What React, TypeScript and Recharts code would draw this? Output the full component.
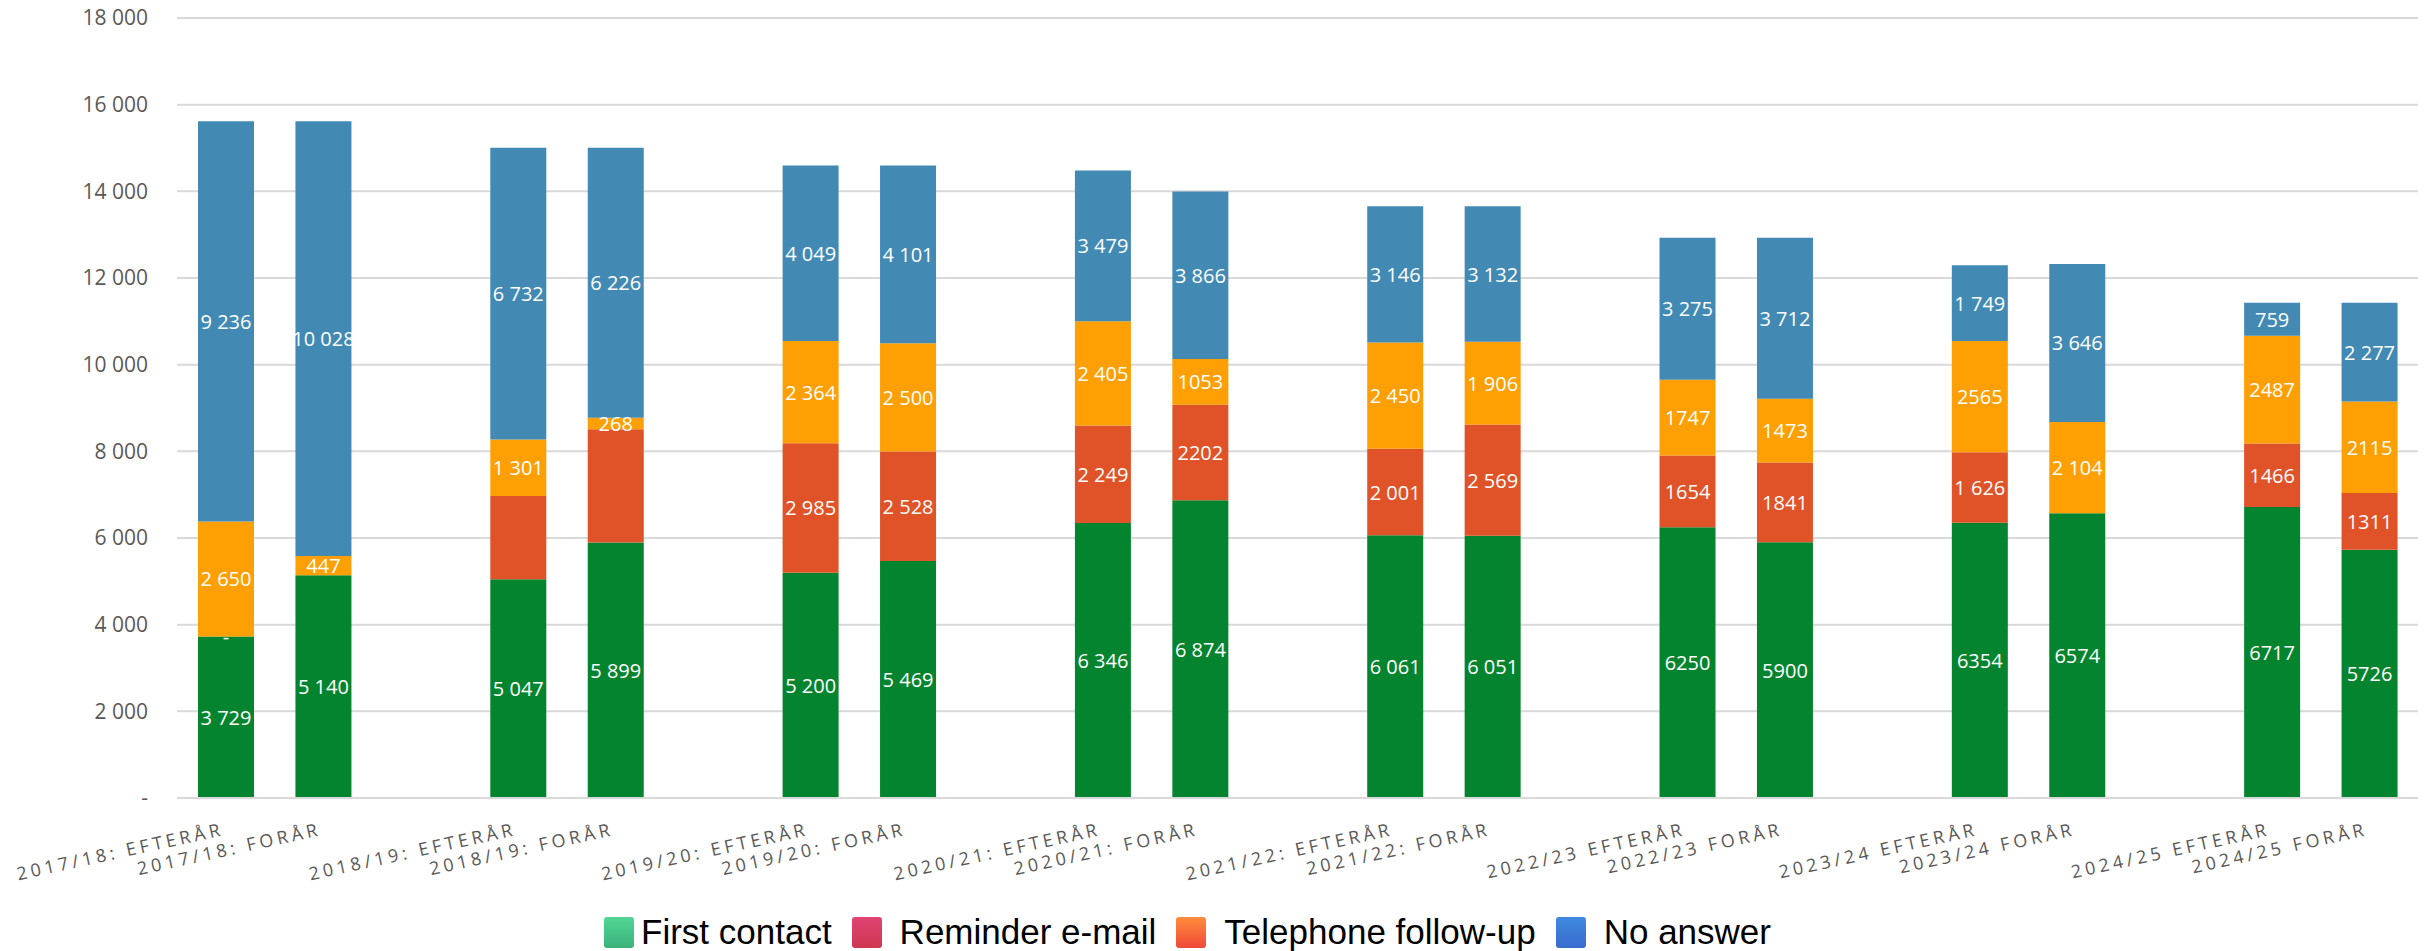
import React from 'react';
import { BarChart, Bar, XAxis, YAxis, CartesianGrid, LabelList } from 'recharts';

// 23 slots: two bars per school year, an empty slot between years
const categories = [
  '2017/18: EFTERÅR', '2017/18: FORÅR', '',
  '2018/19: EFTERÅR', '2018/19: FORÅR', '',
  '2019/20: EFTERÅR', '2019/20: FORÅR', '',
  '2020/21: EFTERÅR', '2020/21: FORÅR', '',
  '2021/22: EFTERÅR', '2021/22: FORÅR', '',
  '2022/23 EFTERÅR', '2022/23 FORÅR', '',
  '2023/24 EFTERÅR', '2023/24 FORÅR', '',
  '2024/25 EFTERÅR', '2024/25 FORÅR',
];

const firstContact = [3729, 5140, null, 5047, 5899, null, 5200, 5469, null, 6346, 6874, null, 6061, 6051, null, 6250, 5900, null, 6354, 6574, null, 6717, 5726];
const reminder = [0, null, null, 1923, 2610, null, 2985, 2528, null, 2249, 2202, null, 2001, 2569, null, 1654, 1841, null, 1626, null, null, 1466, 1311];
const phone = [2650, 447, null, 1301, 268, null, 2364, 2500, null, 2405, 1053, null, 2450, 1906, null, 1747, 1473, null, 2565, 2104, null, 2487, 2115];
const noAnswer = [9236, 10028, null, 6732, 6226, null, 4049, 4101, null, 3479, 3866, null, 3146, 3132, null, 3275, 3712, null, 1749, 3646, null, 759, 2277];

const yTicks = [0, 2000, 4000, 6000, 8000, 10000, 12000, 14000, 16000, 18000];

// labels printed without thousands space in the source, and labels left out
const plainLabels: Record<string, number[]> = {
  firstContact: [15, 16, 18, 19, 21, 22],
  reminder: [10, 15, 16, 21, 22],
  phone: [10, 15, 16, 18, 21, 22],
  noAnswer: [],
};
const hiddenLabels: Record<string, number[]> = {
  firstContact: [],
  reminder: [3, 4],
  phone: [],
  noAnswer: [],
};

const series = [
  { key: 'firstContact', name: 'First contact', color: '#05842f', legend: ['#52d696', '#3bb27a'] },
  { key: 'reminder', name: 'Reminder e-mail', color: '#e05328', legend: ['#e04474', '#cf3651'] },
  { key: 'phone', name: 'Telephone follow-up', color: '#fe9f03', legend: ['#ff8c3c', '#ee4838'] },
  { key: 'noAnswer', name: 'No answer', color: '#428ab4', legend: ['#3f8ae0', '#3a6bcd'] },
];

const data = categories.map((name, i) => ({
  name,
  slot: i,
  firstContact: firstContact[i],
  reminder: reminder[i],
  phone: phone[i],
  noAnswer: noAnswer[i],
}));

const spaced = (v: number) =>
  v >= 1000 ? `${Math.floor(v / 1000)} ${String(v % 1000).padStart(3, '0')}` : String(v);

const yFormat = (v: number) => (v === 0 ? '-' : spaced(v));

const payloadOf = (entry: any) => (entry && entry.payload ? entry.payload : entry);

const labelText = (key: string) => (entry: any) => {
  const p = payloadOf(entry);
  if (!p) return '';
  const v = p[key];
  if (v === null || v === undefined || v === 0) return '';
  if (hiddenLabels[key].includes(p.slot)) return '';
  return plainLabels[key].includes(p.slot) ? String(v) : spaced(v);
};

// a zero reminder count is shown as "-" where its (empty) segment would sit
const zeroReminder = (entry: any) => {
  const p = payloadOf(entry);
  return p && p.reminder === 0 ? '-' : '';
};

const SegmentLabel = (props: any) => {
  const { value, atTop } = props;
  const vb = props.viewBox || props;
  if (!value) return null;
  return (
    <text
      x={vb.x + vb.width / 2}
      y={atTop ? vb.y : vb.y + vb.height / 2}
      textAnchor="middle"
      dominantBaseline="central"
      fill="#ffffff"
      fontFamily="Open Sans"
      fontSize={20}
    >
      {value}
    </text>
  );
};

const XTick = (props: any) => {
  const { x, y, payload } = props;
  if (!payload.value) return null;
  return (
    <g transform={`translate(${x - 1},${y + 29}) rotate(-12.4)`}>
      <text textAnchor="end" fill="#595959" fontFamily="Open Sans" fontSize={18} letterSpacing={3.8}>
        {payload.value}
      </text>
    </g>
  );
};

export default function App() {
  return (
    <div style={{ position: 'absolute', left: 0, top: 0, width: 2433, height: 951, background: '#fff' }}>
      <BarChart
        width={2433}
        height={951}
        data={data}
        margin={{ top: 18, right: 15, bottom: 0, left: 0 }}
        barSize={56}
      >
        <CartesianGrid vertical={false} stroke="#d9d9d9" strokeWidth={2} />
        <XAxis
          dataKey="name"
          interval={0}
          tick={<XTick />}
          tickLine={false}
          axisLine={{ stroke: '#d9d9d9', strokeWidth: 2 }}
          height={153}
        />
        <YAxis
          width={177}
          domain={[0, 18000]}
          ticks={yTicks}
          tickFormatter={yFormat}
          axisLine={false}
          tickLine={false}
          tickMargin={23}
          tick={{ fill: '#595959', fontSize: 21, fontFamily: 'Open Sans' }}
        />
        {series.map((s) => (
          <Bar key={s.key} dataKey={s.key} name={s.name} stackId="a" fill={s.color} isAnimationActive={false}>
            <LabelList valueAccessor={labelText(s.key)} content={<SegmentLabel />} />
            {s.key === 'firstContact' && (
              <LabelList valueAccessor={zeroReminder} content={<SegmentLabel atTop />} />
            )}
          </Bar>
        ))}
      </BarChart>
      <div
        style={{
          position: 'absolute',
          left: 604,
          top: 915,
          display: 'flex',
          alignItems: 'center',
          fontFamily: 'Liberation Sans',
          fontSize: 35,
          lineHeight: '34px',
          color: '#000',
        }}
      >
        {series.map((s, i) => (
          <div key={s.key} style={{ display: 'flex', alignItems: 'center', marginLeft: i === 0 ? 0 : 20 }}>
            <span
              style={{
                display: 'inline-block',
                width: 30,
                height: 31,
                borderRadius: 3,
                background: `linear-gradient(${s.legend[0]}, ${s.legend[1]})`,
                marginRight: i === 0 ? 7 : 18,
              }}
            />
            <span>{s.name}</span>
          </div>
        ))}
      </div>
    </div>
  );
}
